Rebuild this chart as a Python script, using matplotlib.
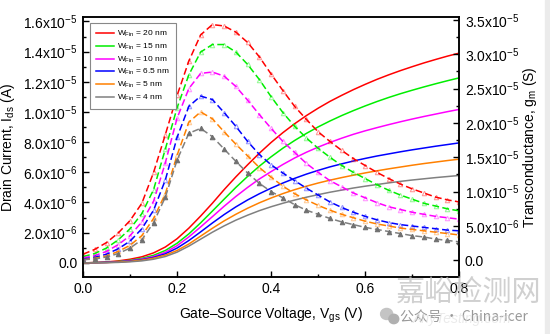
import numpy as np
import matplotlib.pyplot as plt
from matplotlib.ticker import FuncFormatter, MultipleLocator
from matplotlib.colors import to_rgba
from matplotlib.patches import Rectangle, Ellipse

plt.rcParams['font.family'] = ['Liberation Sans', 'Noto Sans CJK SC', 'DejaVu Sans']
plt.rcParams['mathtext.fontset'] = 'custom'
plt.rcParams['mathtext.rm'] = 'Liberation Sans'
plt.rcParams['mathtext.it'] = 'Liberation Sans:italic'
plt.rcParams['mathtext.default'] = 'regular'

# gate voltage sweep (V)
vgs = np.linspace(0, 0.8, 33)

fin_widths = ['20', '15', '10', '6.5', '5', '4']
colors = ['#ff0000', '#00ee00', '#ff00ff', '#0000ff', '#ff8000', '#808080']

# drain current, uA
ids_20 = [0, 0.02, 0.06, 0.13, 0.24, 0.40, 0.66, 1.05, 1.60, 2.30, 3.10, 3.95, 4.85, 5.70, 6.50,
          7.27, 7.98, 8.63, 9.22, 9.76, 10.25, 10.70, 11.10, 11.48, 11.83, 12.16, 12.46, 12.74,
          13.00, 13.25, 13.48, 13.70, 13.90]
ids_15 = [0, 0.01, 0.04, 0.09, 0.17, 0.30, 0.50, 0.82, 1.30, 1.92, 2.65, 3.43, 4.22, 5.00, 5.73,
          6.41, 7.03, 7.60, 8.11, 8.58, 9.01, 9.40, 9.76, 10.09, 10.40, 10.69, 10.96, 11.21,
          11.44, 11.66, 11.87, 12.07, 12.26]
ids_10 = [0, 0.01, 0.03, 0.07, 0.14, 0.25, 0.42, 0.70, 1.14, 1.72, 2.38, 3.06, 3.75, 4.40, 5.00,
          5.56, 6.05, 6.52, 6.95, 7.33, 7.67, 7.98, 8.26, 8.52, 8.75, 8.96, 9.16, 9.35,
          9.53, 9.70, 9.86, 10.02, 10.17]
ids_6p5 = [0, 0.01, 0.03, 0.06, 0.12, 0.21, 0.36, 0.60, 0.98, 1.48, 2.05, 2.64, 3.20, 3.71, 4.17,
           4.58, 4.95, 5.29, 5.60, 5.88, 6.13, 6.36, 6.56, 6.75, 6.92, 7.08, 7.22, 7.36,
           7.49, 7.61, 7.73, 7.84, 7.95]
ids_5 = [0, 0.01, 0.02, 0.05, 0.10, 0.18, 0.31, 0.51, 0.82, 1.25, 1.77, 2.29, 2.78, 3.22, 3.62,
         3.98, 4.30, 4.59, 4.85, 5.08, 5.29, 5.48, 5.65, 5.81, 5.96, 6.10, 6.23, 6.35,
         6.47, 6.58, 6.68, 6.78, 6.87]
ids_4 = [0, 0.00, 0.01, 0.03, 0.07, 0.13, 0.24, 0.42, 0.71, 1.11, 1.57, 2.03, 2.45, 2.83, 3.16,
         3.46, 3.72, 3.95, 4.16, 4.35, 4.52, 4.68, 4.82, 4.96, 5.08, 5.19, 5.30, 5.40,
         5.49, 5.57, 5.65, 5.72, 5.79]

# transconductance, uS
gm_20 = [0.9, 1.6, 2.6, 4.0, 5.8, 8.3, 12.8, 18.3, 24.0, 29.0, 32.8, 34.3, 34.1, 33.2, 31.7,
         29.6, 27.1, 24.7, 22.4, 20.5, 18.7, 17.3, 16.0, 14.8, 13.8, 12.8, 11.9, 11.1,
         10.4, 9.8, 9.2, 8.8, 8.5]
gm_15 = [0.55, 1.0, 1.8, 3.0, 4.6, 6.8, 10.3, 16.2, 22.2, 27.0, 30.3, 31.4, 31.4, 30.3, 28.5,
         26.3, 23.8, 21.5, 19.5, 17.8, 16.3, 15.0, 13.8, 12.8, 11.9, 11.0, 10.2, 9.5,
         8.9, 8.3, 7.9, 7.5, 7.2]
gm_10 = [0.35, 0.7, 1.3, 2.3, 3.6, 5.6, 8.6, 14.2, 20.7, 25.0, 27.2, 27.4, 26.8, 25.3, 23.3,
         21.2, 19.2, 17.3, 15.7, 14.1, 12.8, 11.6, 10.7, 9.8, 9.1, 8.4, 7.8, 7.4,
         7.0, 6.7, 6.4, 6.2, 6.0]
gm_6p5 = [0.2, 0.45, 0.9, 1.7, 2.8, 4.6, 7.3, 11.7, 17.9, 22.4, 23.9, 23.4, 21.5, 19.5, 17.3,
          15.4, 13.9, 12.7, 11.6, 10.5, 9.5, 8.5, 7.7, 7.0, 6.4, 5.9, 5.5, 5.2,
          5.0, 4.8, 4.6, 4.4, 4.3]
gm_5 = [0.1, 0.3, 0.65, 1.3, 2.2, 3.6, 6.1, 9.7, 15.3, 20.1, 21.6, 20.6, 18.7, 16.9, 15.2,
        13.5, 12.1, 10.8, 9.7, 8.8, 8.0, 7.3, 6.7, 6.2, 5.7, 5.3, 5.0, 4.7,
        4.5, 4.3, 4.1, 3.9, 3.7]
gm_4 = [0.1, 0.2, 0.5, 1.0, 1.8, 3.0, 5.5, 9.2, 14.6, 18.5, 19.2, 18.0, 16.2, 14.4, 12.7,
        11.2, 10.0, 9.1, 8.1, 7.3, 6.7, 6.1, 5.6, 5.2, 4.8, 4.5, 4.2, 3.9,
        3.6, 3.4, 3.1, 2.9, 2.7]

ids_all = [ids_20, ids_15, ids_10, ids_6p5, ids_5, ids_4]
gm_all = [gm_20, gm_15, gm_10, gm_6p5, gm_5, gm_4]


def sci_label(v, pos):
    if abs(v) < 1e-12:
        return '0.0'
    exp = int(np.floor(np.log10(abs(v)) + 1e-9))
    return f'{v / 10**exp:.1f}x10$^{{{exp}}}$'


fig = plt.figure(figsize=(5.5, 3.34), dpi=100)
ax = fig.add_axes([0.151, 0.171, 0.684, 0.778])
ax2 = ax.twinx()

for w, c, i_ds, g_m in zip(fin_widths, colors, ids_all, gm_all):
    ax.plot(vgs, np.array(i_ds) * 1e-6, color=c, lw=1.1,
            label=f'W$_{{Fin}}$ = {w} nm')
    if c == '#808080':
        mfc, mec = '#707070', '#707070'
    else:
        mfc, mec = 'none', to_rgba(c, 0.4)
    ax2.plot(vgs, np.array(g_m) * 1e-6, color=c, lw=1.1, ls=(0, (4.5, 2.2)),
             marker='^', ms=3.2, mfc=mfc, mec=mec, mew=0.8)

ax.set_xlim(0, 0.8)
ax.set_ylim(-0.93e-6, 1.629e-5)
ax2.set_ylim(-2.4e-6, 3.54e-5)

ax.xaxis.set_major_locator(MultipleLocator(0.2))
ax.xaxis.set_minor_locator(MultipleLocator(0.1))
ax.xaxis.set_major_formatter(FuncFormatter(lambda v, p: f'{v:.1f}'))
ax.yaxis.set_major_locator(MultipleLocator(2e-6))
ax.yaxis.set_minor_locator(MultipleLocator(1e-6))
ax.yaxis.set_major_formatter(FuncFormatter(sci_label))
ax2.yaxis.set_major_locator(MultipleLocator(5e-6))
ax2.yaxis.set_minor_locator(MultipleLocator(2.5e-6))
ax2.yaxis.set_major_formatter(FuncFormatter(sci_label))

for a in (ax, ax2):
    a.tick_params(which='major', direction='in', length=4, width=1, labelsize=10, pad=4)
    a.tick_params(which='minor', direction='in', length=2.5, width=1)
    for s in a.spines.values():
        s.set_linewidth(1.1)
ax.tick_params(top=False, right=False, which='both')
ax2.tick_params(top=False, left=False, which='both')

ax.set_xlabel('Gate–Source Voltage, V$_{gs}$ (V)', fontsize=10)
ax.set_ylabel('Drain Current, I$_{ds}$ (A)', fontsize=10)
ax2.set_ylabel('Transconductance, g$_m$ (S)', fontsize=10)
ax.xaxis.set_label_coords(0.5, -0.112)
ax.yaxis.set_label_coords(-0.176, 0.5)
ax2.yaxis.set_label_coords(1.165, 0.5)

handles, labels = ax.get_legend_handles_labels()
leg = ax2.legend(handles, labels, loc='upper left', bbox_to_anchor=(0.019, 0.976),
                 fontsize=6, frameon=True, fancybox=False, edgecolor='#888888',
                 framealpha=1, handlelength=2.2, handletextpad=0.3,
                 labelspacing=0.3, borderpad=0.7, borderaxespad=0)
leg.get_frame().set_linewidth(0.8)

# watermark and page edge
fig.text(0.853, 0.121, '嘉峪检测网', fontsize=21, color='#bcbcbc', alpha=0.7,
         family='Noto Sans CJK SC', ha='center', va='center')
fig.text(0.728, 0.05, '公众号 · China-icer', fontsize=10, color='#999999',
         family=['Noto Sans CJK SC', 'Liberation Sans'], ha='left', va='center')
fig.text(0.84, 0.045, 'AnyTesting.com', fontsize=10, color='#dddddd', style='italic',
         ha='center', va='center', alpha=0.6)
fig.patches.append(Ellipse((0.703, 0.06), 0.022, 0.033, transform=fig.transFigure,
                           color='#c4c4c4'))
fig.patches.append(Ellipse((0.716, 0.045), 0.018, 0.028, transform=fig.transFigure,
                           color='#b0b0b0'))
fig.patches.append(Rectangle((545 / 550, 0), 5 / 550, 1, transform=fig.transFigure,
                             color='#ebebeb', zorder=-1))

plt.savefig('out.png', dpi=100)
